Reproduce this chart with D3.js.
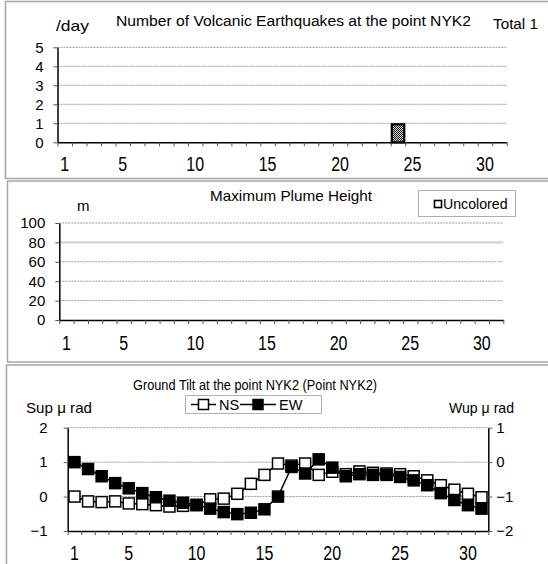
<!DOCTYPE html>
<html><head><meta charset="utf-8">
<script src="https://cdn.jsdelivr.net/npm/d3@7"></script>
<style>
body{margin:0;background:#fff;}
svg{display:block;}
text{font-family:"Liberation Sans",Arial,sans-serif;fill:#000;}
</style></head>
<body><svg id="c" width="548" height="564"></svg>
<script>
const days = [1,2,3,4,5,6,7,8,9,10,11,12,13,14,15,16,17,18,19,20,21,22,23,24,25,26,27,28,29,30,31];
const xTickLabels = [1,5,10,15,20,25,30];
const quakeCounts = [0,0,0,0,0,0,0,0,0,0,0,0,0,0,0,0,0,0,0,0,0,0,0,1,0,0,0,0,0,0,0];
const quakeTicks = [0,1,2,3,4,5];
const plumeHeights = [null,null,null,null,null,null,null,null,null,null,null,null,null,null,null,null,null,null,null,null,null,null,null,null,null,null,null,null,null,null,null];
const plumeTicks = [0,20,40,60,80,100];
const tiltNS = [0.00,-0.14,-0.16,-0.14,-0.20,-0.22,-0.25,-0.29,-0.27,-0.25,-0.08,-0.06,0.08,0.37,0.63,0.96,0.90,0.96,0.63,0.72,0.65,0.73,0.69,0.67,0.65,0.59,0.47,0.33,0.20,0.08,-0.02];
const tiltEW = [0.00,-0.20,-0.41,-0.61,-0.76,-0.90,-1.02,-1.12,-1.18,-1.24,-1.35,-1.45,-1.51,-1.47,-1.37,-1.00,-0.14,-0.33,0.08,-0.16,-0.41,-0.35,-0.37,-0.37,-0.43,-0.53,-0.67,-0.90,-1.10,-1.25,-1.35];
const tiltLeftTicks = [-1,0,1,2];
const tiltRightTicks = [-2,-1,0,1];
const fmtMinus = v => (v < 0 ? "\u2212" + Math.abs(v) : String(v));

const svg = d3.select("#c");
const defs = svg.append("defs");
const pat = defs.append("pattern").attr("id","dots").attr("width",2).attr("height",2).attr("patternUnits","userSpaceOnUse");
pat.append("rect").attr("width",2).attr("height",2).attr("fill","#d0d0d0");
pat.append("rect").attr("width",1).attr("height",1).attr("fill","#222");
pat.append("rect").attr("x",1).attr("y",1).attr("width",1).attr("height",1).attr("fill","#222");

// panel frames
[[5.5,1.5,600,177],[7.5,181,600,181],[6.5,365,600,260]].forEach(f=>{
  svg.append("rect").attr("x",f[0]).attr("y",f[1]).attr("width",f[2]).attr("height",f[3])
    .attr("fill","none").attr("stroke","#a8a8a8").attr("stroke-width",1.5);
});

function xAxisBand(g, x0, x1, y0, labelY){
  const xb = d3.scaleBand().domain(days).range([x0,x1]).padding(0);
  const xl = d3.scaleLinear().domain([0.5,31.5]).range([x0,x1]);
  const ax = g.append("g").attr("transform",`translate(0,${y0})`)
    .call(d3.axisBottom(xl).tickValues(d3.range(0.5,32,1)).tickFormat("").tickSize(4).tickSizeOuter(0));
  ax.select(".domain").attr("stroke","#000").attr("stroke-width",1.5);
  ax.selectAll(".tick line").attr("stroke","#555");
  const lab = g.append("g").attr("transform",`translate(0,${labelY})`)
    .call(d3.axisBottom(xb).tickValues(xTickLabels).tickSize(0).tickPadding(0));
  lab.select(".domain").remove();
  lab.selectAll(".tick text").attr("font-size",20).attr("y",0).attr("dy",0)
    .attr("transform","scale(0.8,1)").style("font-family","Liberation Sans, Arial, sans-serif");
  return xb;
}
function yAxisLeft(g, y, x0, x1, ticks, fmt, gridStyle, pad){
  g.append("g").selectAll("line").data(ticks.filter(t=>t!==ticks[0])).join("line")
    .attr("x1",x0).attr("x2",x1).attr("y1",d=>y(d)).attr("y2",d=>y(d))
    .each(function(d){ gridStyle(d3.select(this), d); });
  const ax = g.append("g").attr("transform",`translate(${x0},0)`)
    .call(d3.axisLeft(y).tickValues(ticks).tickFormat(fmt).tickSize(4).tickSizeOuter(0).tickPadding(pad));
  ax.select(".domain").attr("stroke","#000").attr("stroke-width",1.5);
  ax.selectAll(".tick line").attr("stroke","#555");
  ax.selectAll(".tick text").attr("font-size",15).style("font-family","Liberation Sans, Arial, sans-serif");
  return ax;
}
const dotted = (s)=>s.attr("stroke","#9a9a9a").attr("stroke-width",1).attr("stroke-dasharray","2,1");
function label(g, x, y, str, size, len, anchor){
  const t = g.append("text").attr("x",x).attr("y",y).attr("font-size",size).attr("text-anchor",anchor||"start").text(str);
  if(len) t.attr("textLength",len).attr("lengthAdjust","spacingAndGlyphs");
  return t;
}

// ---------- Panel 1: earthquakes ----------
{
  const g = svg.append("g");
  const X0=57.5, X1=506.7;
  const y = d3.scaleLinear().domain([0,5]).range([142.3,47.3]);
  yAxisLeft(g, y, X0, X1, quakeTicks, d=>d, (s)=>dotted(s), 10);
  const xb = xAxisBand(g, X0, X1, 142.3, 170.5);
  g.append("g").selectAll("rect").data(days.map((d,i)=>({d, v:quakeCounts[i]})).filter(o=>o.v>0)).join("rect")
    .attr("x",o=>xb(o.d)+1).attr("width",xb.bandwidth()-2)
    .attr("y",o=>y(o.v)+1).attr("height",o=>y(0)-y(o.v)-1)
    .attr("fill","url(#dots)").attr("stroke","#000").attr("stroke-width",2.2);
  label(g, 293.5, 26, "Number of Volcanic Earthquakes at the point NYK2", 15.5, 355, "middle");
  label(g, 56, 31, "/day", 15, 33);
  label(g, 493, 29, "Total 1", 15, 45);
}

// ---------- Panel 2: plume ----------
{
  const g = svg.append("g");
  const X0=59.3, X1=503.3;
  const y = d3.scaleLinear().domain([0,100]).range([320,223]);
  yAxisLeft(g, y, X0, X1, plumeTicks, d=>d, (s,d)=>{
    if(d===80) s.attr("stroke","#d0d0d0").attr("stroke-width",2);
    else dotted(s);
  }, 10);
  const xb = xAxisBand(g, X0, X1, 320, 349.5);
  g.append("g").selectAll("rect").data(days.map((d,i)=>({d,v:plumeHeights[i]})).filter(o=>o.v)).join("rect")
    .attr("x",o=>xb(o.d)).attr("width",xb.bandwidth()).attr("y",o=>y(o.v)).attr("height",o=>y(0)-y(o.v))
    .attr("fill","#fff").attr("stroke","#000");
  label(g, 291, 201, "Maximum Plume Height", 15, 162, "middle");
  label(g, 77, 211, "m", 15, 12.5);
  g.append("rect").attr("x",418.5).attr("y",190.5).attr("width",97).attr("height",26)
    .attr("fill","#fff").attr("stroke","#b0b0b0").attr("stroke-width",1);
  g.append("rect").attr("x",434.5).attr("y",200.5).attr("width",7).attr("height",7)
    .attr("fill","#fff").attr("stroke","#000").attr("stroke-width",1.6);
  label(g, 443, 209, "Uncolored", 14.5, 64.5);
}

// ---------- Panel 3: tilt ----------
{
  const g = svg.append("g");
  const X0=67.7, X1=488.3;
  const yL = d3.scaleLinear().domain([-1,2]).range([531,427.7]);
  const yR = d3.scaleLinear().domain([-2,1]).range([531,427.7]);
  yAxisLeft(g, yL, X0, X1, tiltLeftTicks, fmtMinus, (s)=>dotted(s), 16);
  const axR = g.append("g").attr("transform",`translate(${X1},0)`)
    .call(d3.axisRight(yR).tickValues(tiltRightTicks).tickFormat(fmtMinus).tickSize(4).tickSizeOuter(0).tickPadding(4));
  axR.select(".domain").attr("stroke","#000").attr("stroke-width",1.5);
  axR.selectAll(".tick line").attr("stroke","#555");
  axR.selectAll(".tick text").attr("font-size",15);
  const xb = xAxisBand(g, X0, X1, 531, 559.5);
  const cx = d => xb(d) + xb.bandwidth()/2;
  const ms = 11;
  const lineNS = d3.line().x((v,i)=>cx(days[i])).y(v=>yL(v));
  const lineEW = d3.line().x((v,i)=>cx(days[i])).y(v=>yR(v));
  g.append("path").attr("d",lineNS(tiltNS)).attr("fill","none").attr("stroke","#000").attr("stroke-width",1.5);
  g.append("g").selectAll("rect").data(tiltNS).join("rect")
    .attr("x",(v,i)=>cx(days[i])-ms/2).attr("y",v=>yL(v)-ms/2).attr("width",ms).attr("height",ms)
    .attr("fill","#fff").attr("stroke","#000").attr("stroke-width",1.5);
  g.append("path").attr("d",lineEW(tiltEW)).attr("fill","none").attr("stroke","#000").attr("stroke-width",1.5);
  g.append("g").selectAll("rect").data(tiltEW).join("rect")
    .attr("x",(v,i)=>cx(days[i])-ms/2).attr("y",v=>yR(v)-ms/2).attr("width",ms).attr("height",ms)
    .attr("fill","#000").attr("stroke","#000").attr("stroke-width",1.5);
  label(g, 255, 390, "Ground Tilt at the point NYK2 (Point NYK2)", 14, 244, "middle");
  label(g, 26, 413, "Sup \u03bc rad", 15, 66);
  label(g, 449, 413, "Wup \u03bc rad", 15, 65);
  // legend
  const lg = g.append("g");
  lg.append("rect").attr("x",185.5).attr("y",395.5).attr("width",136).attr("height",18)
    .attr("fill","#fff").attr("stroke","#b0b0b0");
  const items = [{name:"NS", fill:"#fff", x1:191, x2:216},{name:"EW", fill:"#000", x1:240, x2:276}];
  items.forEach(it=>{
    const mid = (it.x1+it.x2)/2;
    lg.append("line").attr("x1",it.x1).attr("x2",it.x2).attr("y1",404.5).attr("y2",404.5).attr("stroke","#000").attr("stroke-width",1.5);
    lg.append("rect").attr("x",mid-5).attr("y",404.5-5).attr("width",10).attr("height",10)
      .attr("fill",it.fill).attr("stroke","#000").attr("stroke-width",1.5);
    lg.append("text").attr("x",it.x2+3).attr("y",410).attr("font-size",14.5).text(it.name);
  });
}
</script></body></html>
